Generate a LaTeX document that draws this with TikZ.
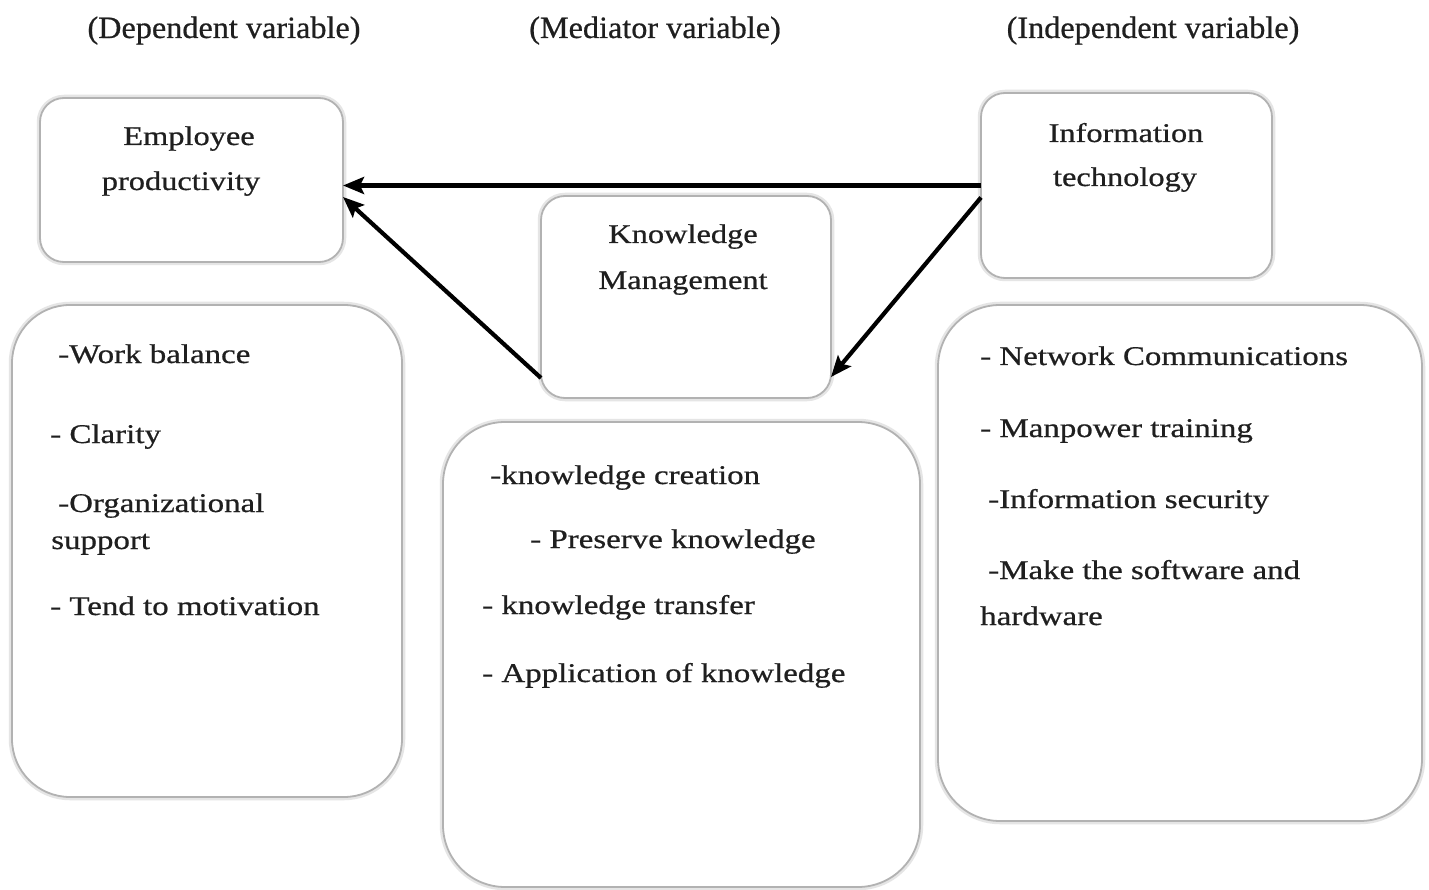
\documentclass[tikz,border=0pt]{standalone}
\usepackage{fontspec}
\setmainfont{Liberation Serif}
\newfontfamily\bodyfont[FakeBold=0.6]{Liberation Serif}
\usetikzlibrary{arrows.meta}
\begin{document}
\begin{tikzpicture}[x=1pt,y=-1pt,
  box/.style={draw=black!30, line width=1.8pt, rounded corners=#1, fill=white,
    preaction={draw=black!10, line width=6.5pt}, inner sep=0pt, outer sep=0pt},
  txt/.style={anchor=base west, inner sep=0pt, text=black!88,
    font=\bodyfont\fontsize{27}{32}\selectfont, xscale=1.22},
  ttl/.style={anchor=base, inner sep=0pt, text=black!88,
    font=\bodyfont\fontsize{27}{32}\selectfont, xscale=1.2},
  hdr/.style={anchor=base, inner sep=0pt, text=black!88,
    font=\bodyfont\fontsize{31}{36}\selectfont, xscale=1.04},
  arr/.style={line width=4.2pt, -{Stealth[length=21pt, width=17pt, inset=4pt]}}]
\fill[white] (0,0) rectangle (1429,890);
\useasboundingbox (0,0) rectangle (1429,890);

% headers
\node[hdr] (h1) at (224,38) {(Dependent variable)};
\node[hdr] (h2) at (655,38) {(Mediator variable)};
\node[hdr] (h3) at (1153,38) {(Independent variable)};

% upper boxes
\node[box=24pt, minimum width=303pt, minimum height=164pt] (EP) at (191.5,180) {};
\node[box=24pt, minimum width=290pt, minimum height=202pt] (KM) at (686,297) {};
\node[box=24pt, minimum width=291pt, minimum height=185pt] (IT) at (1126.5,185.5) {};

\node[ttl] (EP1) at (189,145) {Employee};
\node[ttl] (EP2) at (181,190) {productivity};
\node[ttl] (KM1) at (683,243) {Knowledge};
\node[ttl] (KM2) at (683,289) {Management};
\node[ttl] (IT1) at (1126,142) {Information};
\node[ttl] (IT2) at (1125,186) {technology};

% lower boxes
\node[box=58pt, minimum width=390pt, minimum height=492pt] (LB) at (207,551) {};
\node[box=62pt, minimum width=477pt, minimum height=465pt] (MB) at (681.5,654.5) {};
\node[box=62pt, minimum width=484pt, minimum height=516pt] (RB) at (1180,563) {};

\node[txt] (l1) at (58,363) {-Work balance};
\node[txt] (l2) at (50,443) {- Clarity};
\node[txt] (l3) at (58,512) {-Organizational};
\node[txt] (l4) at (51,549) {support};
\node[txt] (l5) at (50,615) {- Tend to motivation};

\node[txt] (m1) at (490,484) {-knowledge creation};
\node[txt] (m2) at (530,548) {- Preserve knowledge};
\node[txt] (m3) at (482,614) {- knowledge transfer};
\node[txt] (m4) at (482,682) {- Application of knowledge};

\node[txt] (r1) at (980,365) {- Network Communications};
\node[txt] (r2) at (980,437) {- Manpower training};
\node[txt] (r3) at (988,508) {-Information security};
\node[txt] (r4) at (988,579) {-Make the software and};
\node[txt] (r5) at (980,625) {hardware};

% arrows
\draw[arr] (IT.west) -- (EP.east |- IT.west);
\draw[arr] ([yshift=20pt]KM.south west) -- ([yshift=-17pt]EP.east);
\draw[arr] ([yshift=-12pt]IT.west) -- ([yshift=21pt]KM.south east);
\end{tikzpicture}
\end{document}
